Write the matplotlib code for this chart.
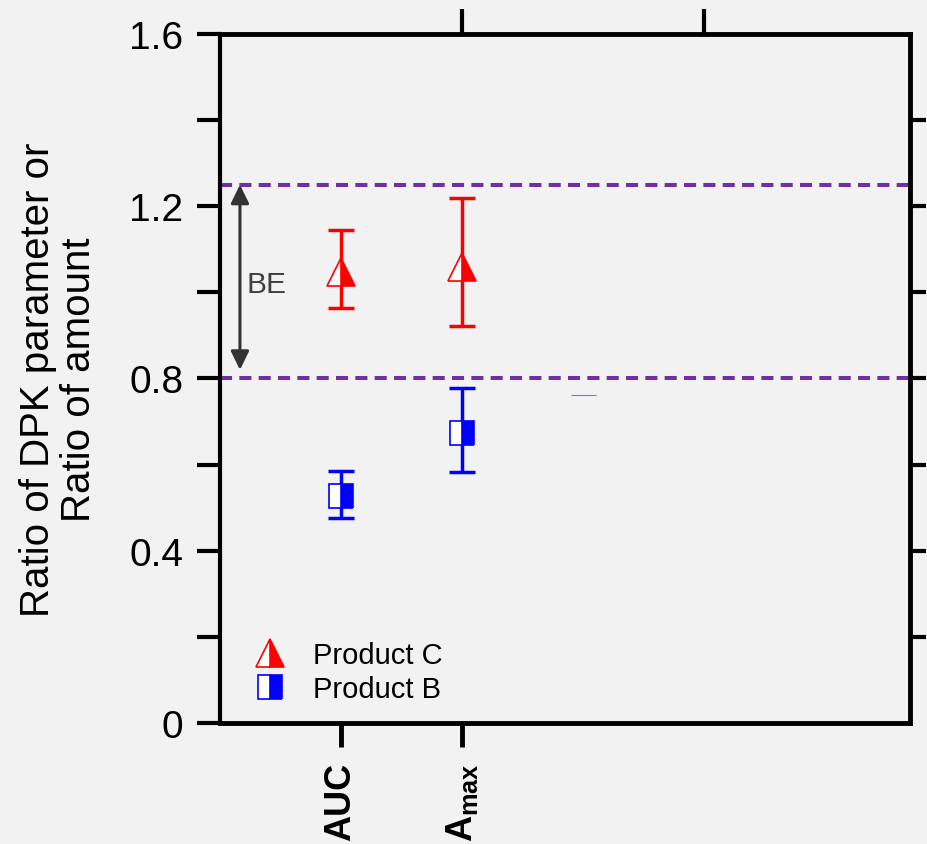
import matplotlib
matplotlib.use('Agg')
import matplotlib.pyplot as plt

plt.rcParams['font.family'] = ['Liberation Sans', 'DejaVu Sans']
plt.rcParams['mathtext.fontset'] = 'custom'
plt.rcParams['mathtext.rm'] = 'Liberation Sans'
plt.rcParams['mathtext.bf'] = 'Liberation Sans:bold'

# data
params = ['AUC', r'$\mathbf{A}_{\mathbf{max}}$']
x_pos = [1, 2]
prod_c = [1.048, 1.058]
prod_c_lo = [0.964, 0.923]
prod_c_hi = [1.145, 1.219]
prod_b = [0.528, 0.673]
prod_b_lo = [0.476, 0.582]
prod_b_hi = [0.586, 0.777]
stray_x = [3]
stray_y = [0.762]
be_limits = [0.80, 1.25]

bg = '#f2f2f2'
fig = plt.figure(figsize=(9.27, 8.45), dpi=100, facecolor=bg)
ax = fig.add_axes([0.2373, 0.1432, 0.7444, 0.8154], facecolor=bg)

for lim in be_limits:
    ax.axhline(lim, color='#7030a0', lw=2.9, dashes=(3, 1.8), zorder=1)

ax.annotate('', xy=(0.165, be_limits[1]), xytext=(0.165, 0.82),
            arrowprops=dict(arrowstyle='<|-|>,head_length=0.45,head_width=0.22',
                            mutation_scale=25, color='#333333', lw=2.2,
                            shrinkA=0, shrinkB=0))
ax.text(0.22, 1.02, 'BE', fontsize=21.5, color='#404040', ha='left', va='center')

c_err = [[m - l for m, l in zip(prod_c, prod_c_lo)], [h - m for m, h in zip(prod_c, prod_c_hi)]]
b_err = [[m - l for m, l in zip(prod_b, prod_b_lo)], [h - m for m, h in zip(prod_b, prod_b_hi)]]
ax.errorbar(x_pos, prod_c, yerr=c_err, fmt='none', ecolor='red', elinewidth=2.5,
            capsize=9.4, capthick=2.5, zorder=3)
ax.errorbar(x_pos, prod_b, yerr=b_err, fmt='none', ecolor='blue', elinewidth=2.5,
            capsize=9.4, capthick=2.5, zorder=3)
ax.plot(x_pos, prod_c, ls='none', marker='^', markersize=20, fillstyle='right',
        color='red', markerfacecoloralt='white', markeredgewidth=1.2, zorder=4,
        label='Product C')
ax.plot(x_pos, prod_b, ls='none', marker='s', markersize=17, fillstyle='right',
        color='blue', markerfacecoloralt='white', markeredgewidth=1.2, zorder=4,
        label='Product B')
ax.plot(stray_x, stray_y, ls='none', marker='_', markersize=18, markeredgewidth=0.8,
        color='#7777ff', zorder=2)

ax.set_xlim(0, 5.7)
ax.set_ylim(0, 1.6)
ax.set_yticks([0, 0.4, 0.8, 1.2, 1.6])
ax.set_yticklabels(['0', '0.4', '0.8', '1.2', '1.6'])
ax.set_yticks([0.2, 0.6, 1.0, 1.4], minor=True)
ax.set_xticks(x_pos)
ax.set_xticklabels(params, rotation=90, fontsize=26, fontweight='bold')
ax.tick_params(axis='y', which='both', direction='out', length=16.5, width=3,
               labelsize=28, pad=10)
ax.tick_params(axis='x', direction='out', length=17, width=3.5, pad=11)
ax.set_ylabel('Ratio of DPK parameter or\nRatio of amount', fontsize=29,
              labelpad=22, linespacing=1.1)

for side in ['left', 'bottom', 'top', 'right']:
    ax.spines[side].set_linewidth(3.5)
ax.spines['left'].set_linewidth(3)

# right side ticks
axr = ax.twinx()
axr.set_ylim(0, 1.6)
axr.set_yticks([0.2, 0.4, 0.6, 0.8, 1.0, 1.2, 1.4])
axr.tick_params(axis='y', direction='out', length=11.5, width=3, labelright=False)
axr.set_xlim(0, 5.7)

# top ticks
axt = ax.twiny()
axt.set_xlim(0, 5.7)
axt.set_xticks([2, 4])
axt.tick_params(axis='x', direction='out', length=18, width=3, labeltop=False)
for a in (axr, axt):
    a.patch.set_visible(False)
    for s in a.spines.values():
        s.set_visible(False)

ax.legend(loc='lower left', bbox_to_anchor=(0.052, 0.029), frameon=False,
          fontsize=21, handlelength=1.0, handletextpad=0.95, borderpad=0,
          labelspacing=0.2, borderaxespad=0)

fig.savefig('out.png', dpi=100, facecolor=bg)
